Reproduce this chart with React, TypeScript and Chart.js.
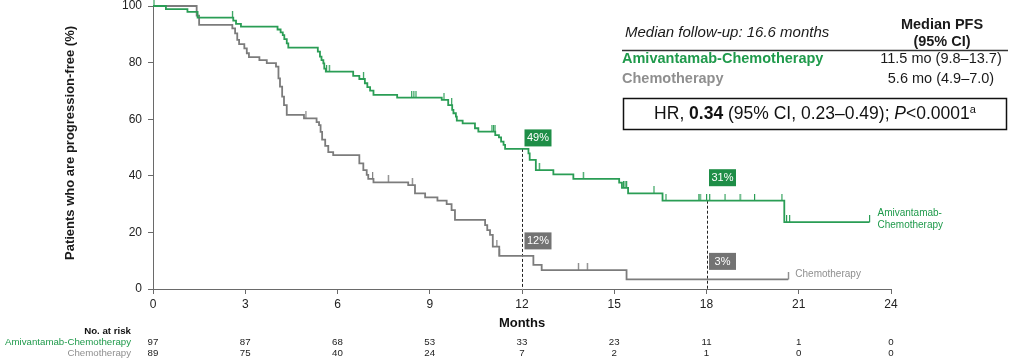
import { useEffect, useRef } from 'react';
import { Chart, registerables } from 'chart.js';
Chart.register(...registerables);

// ---------- data ----------
const monthTicks = [0, 3, 6, 9, 12, 15, 18, 21, 24];

const amiTimes = [0, 0.42, 1.12, 1.45, 2.61, 2.7, 2.86, 4.05, 4.15, 4.22, 4.27, 4.35, 4.4, 5.36, 5.43, 5.48, 5.54, 5.57, 5.62, 6.51, 6.71, 6.89, 6.97, 7.06, 7.17, 7.94, 9.39, 9.6, 9.73, 9.77, 9.85, 9.88, 10.07, 10.47, 10.58, 11.13, 11.25, 11.32, 11.4, 11.45, 12.21, 12.25, 12.45, 13.02, 13.67, 15.16, 15.25, 15.45, 16.57, 20.53, 23.3];
const amiSurv = [100, 98.9, 97.9, 95.9, 94.8, 93.7, 92.7, 91.7, 90.7, 89.7, 88.3, 86.8, 85.3, 83.9, 82.1, 80.9, 79.7, 77.9, 76.8, 75.3, 74.2, 72.7, 71.3, 70.1, 68.6, 67.6, 66.8, 65.0, 63.3, 62.1, 60.9, 59.5, 58.5, 56.8, 55.6, 54.4, 53.6, 52.1, 50.9, 49.5, 47.9, 45.6, 42.0, 40.5, 38.9, 37.6, 35.7, 33.8, 31.2, 23.6, 23.6];
const amiCensor = [0.03, 2.58, 5.64, 5.73, 6.84, 8.41, 8.48, 8.55, 9.46, 9.71, 11.02, 11.07, 11.12, 12.56, 13.99, 15.3, 15.35, 15.4, 16.29, 16.68, 17.75, 17.79, 18.0, 18.1, 18.6, 19.09, 19.56, 20.45, 20.6, 20.7, 23.3];

const chemoTimes = [0, 1.42, 1.5, 2.58, 2.67, 2.74, 2.8, 2.97, 3.05, 3.12, 3.46, 3.7, 4.0, 4.08, 4.13, 4.2, 4.26, 4.35, 4.91, 5.32, 5.4, 5.45, 5.5, 5.6, 5.7, 5.86, 6.71, 6.84, 6.95, 7.0, 7.17, 8.3, 8.52, 8.85, 9.25, 9.55, 9.71, 9.82, 10.8, 10.87, 10.96, 11.05, 11.26, 12.37, 12.64, 15.4, 20.66];
const chemoSurv = [100, 96.6, 93.3, 92.1, 90.3, 88.0, 86.5, 85.0, 83.3, 81.9, 80.9, 79.8, 78.6, 74.4, 71.5, 68.0, 65.0, 61.5, 60.3, 59.0, 57.9, 55.5, 52.8, 50.6, 48.4, 47.3, 44.4, 42.0, 40.3, 38.9, 37.7, 36.7, 33.8, 32.4, 31.2, 30.0, 27.9, 24.4, 22.6, 20.8, 19.1, 15.0, 11.7, 8.5, 6.7, 3.4, 3.4];
const chemoCensor = [4.97, 7.14, 7.65, 8.43, 11.18, 11.26, 13.83, 14.12, 20.66];

const riskAmi = [97, 87, 68, 53, 33, 23, 11, 1, 0];
const riskChemo = [89, 75, 40, 24, 7, 2, 1, 0, 0];

const landmarkMonths = [12, 18];
const landmarkAmiLabels = ['49%', '31%'];
const landmarkChemoLabels = ['12%', '3%'];

const amiName = 'Amivantamab-Chemotherapy';
const chemoName = 'Chemotherapy';
const amiMedian = '11.5 mo (9.8–13.7)';
const chemoMedian = '5.6 mo (4.9–7.0)';

// ---------- style ----------
const GREEN_LINE = '#2a9d55';
const GREEN_TEXT = '#1f9a4b';
const GREEN_BOX = '#1e8e47';
const GRAY_LINE = '#7c7c7c';
const GRAY_TEXT = '#8f8f8f';
const GRAY_BOX = '#737373';
const AXIS = '#6a6a6a';
const FONT = '"Liberation Sans", Arial, sans-serif';

function survAt(times: number[], surv: number[], t: number) {
  let v = surv[0];
  for (let i = 0; i < times.length; i++) if (times[i] <= t) v = surv[i];
  return v;
}

function makeTick(color: string) {
  const c = document.createElement('canvas');
  c.width = 3;
  c.height = 14;
  const g = c.getContext('2d')!;
  g.fillStyle = color;
  g.fillRect(1, 0, 1.2, 7);
  return c;
}

const annotations = {
  id: 'kmAnnotations',
  beforeDatasetsDraw(chart: any) {
    const { ctx, scales } = chart;
    const x = scales.x, y = scales.y;
    ctx.save();
    ctx.strokeStyle = '#222';
    ctx.lineWidth = 1;
    ctx.setLineDash([3, 2]);
    landmarkMonths.forEach((m) => {
      const top = survAt(amiTimes, amiSurv, m);
      const px = Math.round(x.getPixelForValue(m)) + 0.5;
      ctx.beginPath();
      ctx.moveTo(px, y.getPixelForValue(top));
      ctx.lineTo(px, y.getPixelForValue(0));
      ctx.stroke();
    });
    ctx.restore();
  },
  afterDraw(chart: any) {
    const { ctx, scales } = chart;
    const x = scales.x, y = scales.y;
    ctx.save();

    // y axis title
    ctx.save();
    ctx.translate(70, 143);
    ctx.rotate(-Math.PI / 2);
    ctx.font = `bold 13px ${FONT}`;
    ctx.fillStyle = '#1a1a1a';
    ctx.textAlign = 'center';
    ctx.textBaseline = 'middle';
    ctx.fillText('Patients who are progression-free (%)', 0, 0);
    ctx.restore();

    // landmark boxes
    const boxOffsets = [[-11, -23], [-15, -18]];
    const drawBox = (m: number, val: number, label: string, fill: string, dy: number) => {
      const cx = x.getPixelForValue(m) + 16;
      const cy = y.getPixelForValue(val) + dy;
      ctx.fillStyle = fill;
      ctx.fillRect(cx - 13.5, cy - 8.5, 27, 17);
      ctx.fillStyle = '#fff';
      ctx.font = `11px ${FONT}`;
      ctx.textAlign = 'center';
      ctx.textBaseline = 'middle';
      ctx.fillText(label, cx, cy + 0.5);
    };
    landmarkMonths.forEach((m, i) => {
      drawBox(m, survAt(amiTimes, amiSurv, m), landmarkAmiLabels[i], GREEN_BOX, boxOffsets[0][i]);
      drawBox(m, survAt(chemoTimes, chemoSurv, m), landmarkChemoLabels[i], GRAY_BOX, boxOffsets[1][i]);
    });

    // curve end labels
    ctx.font = `10px ${FONT}`;
    ctx.textAlign = 'left';
    ctx.textBaseline = 'middle';
    const amiEnd = amiTimes[amiTimes.length - 1];
    const ax = x.getPixelForValue(amiEnd) + 8;
    const ay = y.getPixelForValue(amiSurv[amiSurv.length - 1]);
    ctx.fillStyle = GREEN_TEXT;
    ctx.fillText('Amivantamab-', ax, ay - 9);
    ctx.fillText('Chemotherapy', ax, ay + 3);
    const chemoEnd = chemoTimes[chemoTimes.length - 1];
    ctx.fillStyle = GRAY_TEXT;
    ctx.fillText('Chemotherapy', x.getPixelForValue(chemoEnd) + 7, y.getPixelForValue(chemoSurv[chemoSurv.length - 1]) - 5);

    // risk table
    ctx.font = `bold 9.7px ${FONT}`;
    ctx.textAlign = 'right';
    ctx.fillStyle = '#111';
    ctx.fillText('No. at risk', 131, 331);
    ctx.font = `9.7px ${FONT}`;
    ctx.fillStyle = GREEN_TEXT;
    ctx.fillText(amiName, 131, 342);
    ctx.fillStyle = GRAY_TEXT;
    ctx.fillText(chemoName, 131, 353);
    ctx.textAlign = 'center';
    monthTicks.forEach((m, i) => {
      const px = x.getPixelForValue(m);
      ctx.fillStyle = '#222';
      ctx.fillText(String(riskAmi[i]), px, 342);
      ctx.fillText(String(riskChemo[i]), px, 353);
    });

    // median table
    ctx.textBaseline = 'middle';
    ctx.textAlign = 'left';
    ctx.fillStyle = '#1a1a1a';
    ctx.font = `italic 15px ${FONT}`;
    ctx.fillText('Median follow-up: 16.6 months', 625, 33);
    ctx.textAlign = 'center';
    ctx.font = `bold 14.5px ${FONT}`;
    ctx.fillText('Median PFS', 942, 25);
    ctx.fillText('(95% CI)', 942, 42);
    ctx.strokeStyle = '#333';
    ctx.lineWidth = 1.5;
    ctx.beginPath();
    ctx.moveTo(622, 50.5);
    ctx.lineTo(1008, 50.5);
    ctx.stroke();
    ctx.textAlign = 'left';
    ctx.font = `bold 14.5px ${FONT}`;
    ctx.fillStyle = GREEN_TEXT;
    ctx.fillText(amiName, 622, 59);
    ctx.fillStyle = GRAY_TEXT;
    ctx.fillText(chemoName, 622, 79);
    ctx.textAlign = 'center';
    ctx.fillStyle = '#1a1a1a';
    ctx.font = `14.5px ${FONT}`;
    ctx.fillText(amiMedian, 941, 59);
    ctx.fillText(chemoMedian, 941, 79);

    // HR box
    ctx.strokeStyle = '#111';
    ctx.lineWidth = 1.5;
    ctx.strokeRect(623.5, 98.5, 383, 31);
    const parts: [string, string, number][] = [
      ['HR, ', `17.5px ${FONT}`, 0],
      ['0.34', `bold 17.5px ${FONT}`, 0],
      [' (95% CI, 0.23–0.49); ', `17.5px ${FONT}`, 0],
      ['P', `italic 17.5px ${FONT}`, 0],
      ['<0.0001', `17.5px ${FONT}`, 0],
      ['a', `11px ${FONT}`, -5],
    ];
    let total = 0;
    parts.forEach(([t, f]) => { ctx.font = f; total += ctx.measureText(t).width; });
    let cur = 815 - total / 2;
    ctx.textAlign = 'left';
    ctx.fillStyle = '#111';
    parts.forEach(([t, f, dy]) => {
      ctx.font = f;
      ctx.fillText(t, cur, 114.5 + dy);
      cur += ctx.measureText(t).width;
    });

    ctx.restore();
  },
};

export default function App() {
  const ref = useRef<HTMLCanvasElement>(null);
  useEffect(() => {
    if (!ref.current) return;
    const amiLine = amiTimes.map((t, i) => ({ x: t, y: amiSurv[i] }));
    const chemoLine = chemoTimes.map((t, i) => ({ x: t, y: chemoSurv[i] }));
    const amiCens = amiCensor.map((t) => ({ x: t, y: survAt(amiTimes, amiSurv, t) }));
    const chemoCens = chemoCensor.map((t) => ({ x: t, y: survAt(chemoTimes, chemoSurv, t) }));
    const chart = new Chart(ref.current, {
      type: 'line',
      data: {
        datasets: [
          { label: amiName, data: amiLine, stepped: true, borderColor: GREEN_LINE, borderWidth: 1.8, pointRadius: 0, fill: false, clip: false } as any,
          { label: amiName + ' censored', data: amiCens, showLine: false, pointStyle: makeTick(GREEN_LINE), pointRadius: 4, clip: false } as any,
          { label: chemoName, data: chemoLine, stepped: true, borderColor: GRAY_LINE, borderWidth: 1.8, pointRadius: 0, fill: false, clip: false } as any,
          { label: chemoName + ' censored', data: chemoCens, showLine: false, pointStyle: makeTick(GRAY_LINE), pointRadius: 4, clip: false } as any,
        ],
      },
      options: {
        responsive: false,
        animation: false,
        devicePixelRatio: 1,
        events: [],
        layout: { padding: { top: 6, right: 130, left: 0, bottom: 0 } },
        plugins: { legend: { display: false }, tooltip: { enabled: false } },
        scales: {
          x: {
            type: 'linear',
            min: 0,
            max: 24,
            ticks: { stepSize: 3, padding: 3, color: '#222', font: { size: 12, family: FONT } },
            grid: { drawOnChartArea: false, drawTicks: true, tickLength: 5, color: AXIS },
            border: { display: true, color: AXIS, width: 1 },
            title: { display: true, text: 'Months', color: '#111', font: { size: 13, weight: 'bold', family: FONT }, padding: { top: 0, bottom: 32 } },
            afterFit: (s: any) => { s.height = 74; s.paddingLeft = 0; s.paddingRight = 0; },
          },
          y: {
            type: 'linear',
            min: 0,
            max: 100,
            ticks: { stepSize: 20, padding: 6, color: '#222', font: { size: 12, family: FONT } },
            grid: { drawOnChartArea: false, drawTicks: true, tickLength: 5, color: AXIS },
            border: { display: true, color: AXIS, width: 1 },
            afterFit: (s: any) => { s.width = 153; s.paddingTop = 0; s.paddingBottom = 0; },
          },
        },
      } as any,
      plugins: [annotations],
    });
    return () => chart.destroy();
  }, []);
  return (
    <div style={{ position: 'absolute', left: 0, top: 0, width: 1021, height: 363, background: '#fff' }}>
      <canvas ref={ref} width={1021} height={363} style={{ display: 'block', width: 1021, height: 363 }} />
    </div>
  );
}
